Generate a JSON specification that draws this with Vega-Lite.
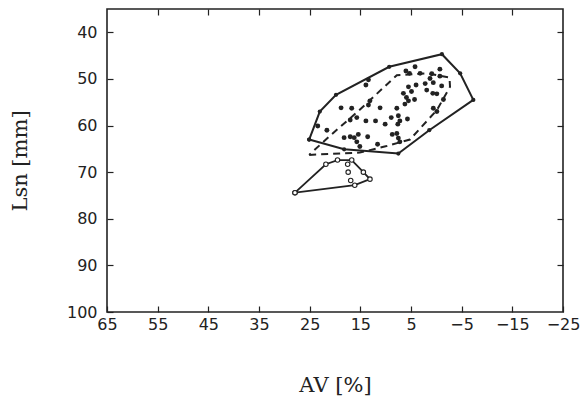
{
  "$schema": "https://vega.github.io/schema/vega-lite/v6.json",
  "width": 456,
  "height": 303,
  "autosize": {"type": "none"},
  "padding": {"left": 107, "top": 9, "right": 18, "bottom": 87},
  "background": "white",
  "config": {
    "view": {"stroke": "#222", "strokeWidth": 1.6},
    "axis": {
      "labelFont": "DejaVu Sans", "labelFontSize": 16, "labelColor": "#222",
      "titleFont": "DejaVu Serif", "titleFontSize": 21, "titleFontWeight": "normal", "titleColor": "#222",
      "tickColor": "#222", "tickWidth": 1.2, "grid": false, "domain": false
    }
  },
  "datasets": {
    "solid": [
      {"i": 1, "av": 25.1, "lsn": 63.0}, {"i": 2, "av": 23.0, "lsn": 57.0}, {"i": 3, "av": 19.8, "lsn": 53.4},
      {"i": 4, "av": 9.3, "lsn": 47.4}, {"i": 5, "av": -1.1, "lsn": 44.7}, {"i": 6, "av": -4.7, "lsn": 48.8},
      {"i": 7, "av": -7.3, "lsn": 54.5}, {"i": 8, "av": 1.4, "lsn": 61.0}, {"i": 9, "av": 7.5, "lsn": 66.0},
      {"i": 10, "av": 18.2, "lsn": 65.1}, {"i": 11, "av": 25.1, "lsn": 63.0}
    ],
    "dashed": [
      {"i": 1, "av": 25.1, "lsn": 66.3}, {"i": 2, "av": 15.1, "lsn": 65.8}, {"i": 3, "av": 9.8, "lsn": 64.4},
      {"i": 4, "av": 5.2, "lsn": 63.0}, {"i": 5, "av": -0.1, "lsn": 56.7}, {"i": 6, "av": -2.7, "lsn": 51.7},
      {"i": 7, "av": -2.6, "lsn": 49.7}, {"i": 8, "av": 1.9, "lsn": 48.8}, {"i": 9, "av": 7.8, "lsn": 49.2},
      {"i": 10, "av": 15.4, "lsn": 56.9}, {"i": 11, "av": 21.3, "lsn": 62.5}, {"i": 12, "av": 25.1, "lsn": 66.3}
    ],
    "lower": [
      {"i": 1, "av": 27.9, "lsn": 74.4}, {"i": 2, "av": 21.8, "lsn": 68.3}, {"i": 3, "av": 19.5, "lsn": 67.4},
      {"i": 4, "av": 16.7, "lsn": 67.4}, {"i": 5, "av": 14.4, "lsn": 70.0}, {"i": 6, "av": 13.1, "lsn": 71.5},
      {"i": 7, "av": 16.1, "lsn": 72.8}, {"i": 8, "av": 27.9, "lsn": 74.4}
    ],
    "open": [
      {"av": 17.5, "lsn": 68.3}, {"av": 17.4, "lsn": 70.0}, {"av": 16.9, "lsn": 71.8}
    ],
    "dots": [
      {"av": 4.2, "lsn": 47.4}, {"av": 6.0, "lsn": 48.3}, {"av": 5.3, "lsn": 48.8}, {"av": 0.9, "lsn": 48.9},
      {"av": -0.7, "lsn": 47.9}, {"av": -0.7, "lsn": 49.4}, {"av": 1.25, "lsn": 49.9}, {"av": 13.4, "lsn": 50.2},
      {"av": 13.9, "lsn": 51.3}, {"av": 5.5, "lsn": 51.7}, {"av": 4.0, "lsn": 51.3}, {"av": 2.2, "lsn": 51.0},
      {"av": 0.6, "lsn": 50.8}, {"av": -1.05, "lsn": 51.5}, {"av": 6.5, "lsn": 53.1}, {"av": 4.9, "lsn": 52.7},
      {"av": 1.9, "lsn": 52.4}, {"av": 0.7, "lsn": 53.1}, {"av": -0.1, "lsn": 53.2}, {"av": 5.9, "lsn": 54.0},
      {"av": 4.3, "lsn": 54.4}, {"av": 5.5, "lsn": 54.7}, {"av": -1.4, "lsn": 54.4}, {"av": 13.1, "lsn": 54.7},
      {"av": 18.8, "lsn": 56.2}, {"av": 16.7, "lsn": 56.3}, {"av": 13.4, "lsn": 55.6}, {"av": 11.1, "lsn": 56.2},
      {"av": 7.8, "lsn": 56.3}, {"av": 6.2, "lsn": 55.4}, {"av": 0.6, "lsn": 56.3}, {"av": 17.0, "lsn": 58.8},
      {"av": 15.7, "lsn": 58.3}, {"av": 13.9, "lsn": 59.0}, {"av": 12.0, "lsn": 59.0}, {"av": 10.1, "lsn": 59.7},
      {"av": 8.9, "lsn": 58.3}, {"av": 7.5, "lsn": 57.9}, {"av": 7.2, "lsn": 59.0}, {"av": 5.7, "lsn": 58.6},
      {"av": 7.6, "lsn": 59.7}, {"av": 21.6, "lsn": 61.0}, {"av": 18.2, "lsn": 62.6}, {"av": 17.0, "lsn": 62.4},
      {"av": 16.2, "lsn": 62.6}, {"av": 15.4, "lsn": 61.9}, {"av": 13.55, "lsn": 62.4}, {"av": 15.7, "lsn": 63.5},
      {"av": 8.7, "lsn": 61.9}, {"av": 7.8, "lsn": 61.7}, {"av": 7.5, "lsn": 62.7}, {"av": 7.2, "lsn": 63.5},
      {"av": 11.6, "lsn": 64.0}, {"av": 15.1, "lsn": 64.5}, {"av": -0.1, "lsn": 57.0}, {"av": 3.2, "lsn": 48.8},
      {"av": 23.4, "lsn": 60.1}
    ]
  },
  "resolve": {"axis": {"x": "independent", "y": "independent"}},
  "layer": [
    {
      "encoding": {
        "x": {"field": "av", "type": "quantitative",
          "scale": {"domain": [-25, 65], "reverse": true, "nice": false, "zero": false},
          "axis": {"orient": "bottom", "title": "AV [%]", "values": [65, 55, 45, 35, 25, 15, 5, -5, -15, -25],
            "tickSize": -6, "labelPadding": 10, "labelFlush": false, "labelOverlap": false,
            "titleX": 228, "titleY": 73, "titleBaseline": "middle"}},
        "y": {"field": "lsn", "type": "quantitative",
          "scale": {"domain": [35, 100], "reverse": true, "nice": false, "zero": false},
          "axis": {"orient": "left", "title": "Lsn [mm]", "values": [40, 50, 60, 70, 80, 90, 100],
            "tickSize": -6, "labelPadding": 16, "labelFlush": false, "labelOverlap": false,
            "titleX": -87, "titleY": 151.5, "titleAngle": -90, "titleAlign": "center", "titleBaseline": "middle"}}
      },
      "layer": [
        {"data": {"name": "solid"}, "mark": {"type": "line", "color": "#222", "strokeWidth": 2,
          "point": {"filled": true, "size": 18, "color": "#222"}},
          "encoding": {"order": {"field": "i"}}},
        {"data": {"name": "dashed"}, "mark": {"type": "line", "color": "#222", "strokeWidth": 2, "strokeDash": [7, 5]},
          "encoding": {"order": {"field": "i"}}},
        {"data": {"name": "lower"}, "mark": {"type": "line", "color": "#222", "strokeWidth": 1.8,
          "point": {"filled": false, "fill": "white", "size": 20, "stroke": "#222", "strokeWidth": 1.1}},
          "encoding": {"order": {"field": "i"}}},
        {"data": {"name": "open"}, "mark": {"type": "point", "filled": false, "fill": "white", "size": 20, "stroke": "#222", "strokeWidth": 1.1, "opacity": 1}},
        {"data": {"name": "dots"}, "mark": {"type": "circle", "size": 24, "color": "#222", "opacity": 1}}
      ]
    },
    {
      "data": {"name": "open"},
      "mark": {"type": "point", "opacity": 0},
      "encoding": {
        "x": {"field": "av", "type": "quantitative",
          "scale": {"domain": [-25, 65], "reverse": true, "nice": false, "zero": false},
          "axis": {"orient": "top", "title": null, "labels": false, "values": [55, 45, 35, 25, 15, 5, -5, -15], "tickSize": -6}},
        "y": {"field": "lsn", "type": "quantitative",
          "scale": {"domain": [35, 100], "reverse": true, "nice": false, "zero": false},
          "axis": {"orient": "right", "title": null, "labels": false, "values": [40, 50, 60, 70, 80, 90], "tickSize": -6}}
      }
    }
  ]
}
